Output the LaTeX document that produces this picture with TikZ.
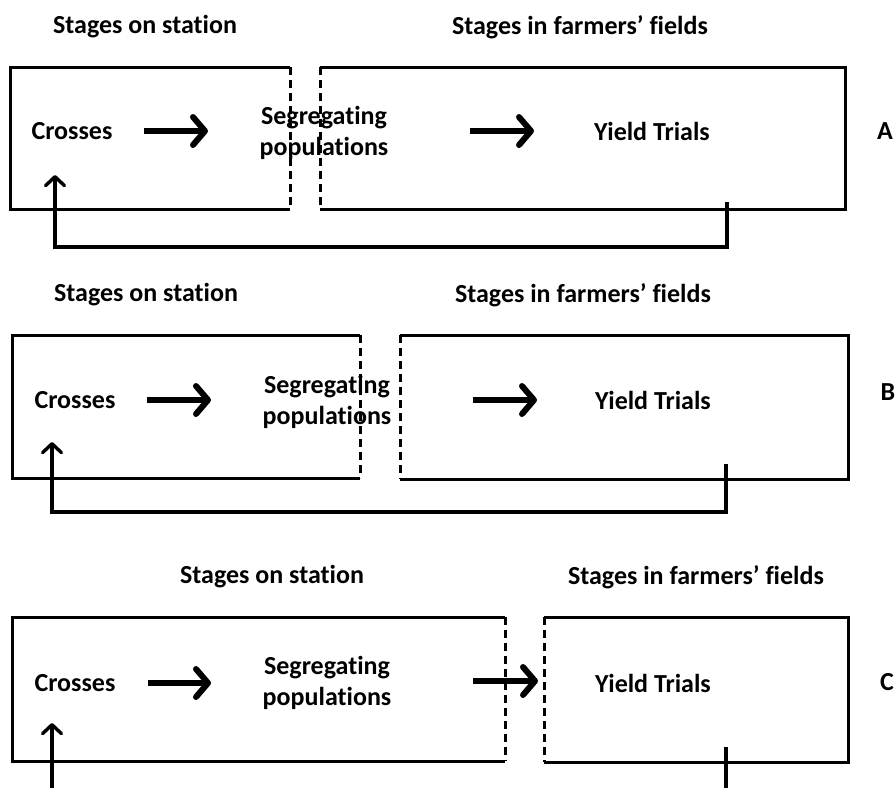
\documentclass[tikz,border=0pt]{standalone}
\usepackage{fontspec}
\setmainfont[Ligatures={NoCommon}]{Carlito}
\usetikzlibrary{arrows.meta}
\begin{document}
\begin{tikzpicture}[x=1pt,y=-1pt,
  txt/.style={font=\fontsize{26}{31}\selectfont\bfseries, inner sep=0pt, align=center},
  boxline/.style={line width=3pt},
  dashline/.style={line width=3pt, dash pattern=on 8pt off 5pt},
  flowarrow/.style={line width=6pt, -{Straight Barb[length=12pt,width=28pt,round]}},
  backarrow/.style={line width=3.4pt, -{Straight Barb[length=9pt,width=19pt,round]}},
  feedline/.style={line width=3.4pt}
]
\useasboundingbox (0,0) rectangle (896,788);

% ---------------- Panel A ----------------
\node[txt] (tA1) at (145,27) {Stages on station};
\node[txt] (tA2) at (580,27) {Stages in farmers’ fields};
\draw[boxline] (290,67) -- (10,67) -- (10,209) -- (290,209);
\draw[dashline] (290,67) -- (290,209);
\draw[boxline] (320,67) -- (845,67) -- (845,209) -- (320,209);
\draw[dashline] (320,67) -- (320,209);
\node[txt] (cA) at (72,131) {Crosses};
\node[txt] (sA) at (324,133) {Segregating\\populations};
\node[txt] (yA) at (652,131) {Yield Trials};
\node[txt] (lA) at (885,131) {A};
\coordinate (a1s) at (144,131); \coordinate (a1e) at (208,131);
\coordinate (a2s) at (470,131); \coordinate (a2e) at (534,131);
\draw[flowarrow] (a1s) -- (a1e);
\draw[flowarrow] (a2s) -- (a2e);
\coordinate (fA1) at (727,202); \coordinate (fA2) at (55,175);
\draw[backarrow] (fA1) -- (727,247) -- (55,247) -- (fA2);

% ---------------- Panel B ----------------
\node[txt] (tB1) at (146,295) {Stages on station};
\node[txt] (tB2) at (583,295) {Stages in farmers’ fields};
\draw[boxline] (360,335) -- (12,335) -- (12,478) -- (360,478);
\draw[dashline] (360,335) -- (360,478);
\draw[boxline] (400,335) -- (848,335) -- (848,479) -- (400,479);
\draw[dashline] (400,335) -- (400,479);
\node[txt] (cB) at (75,400) {Crosses};
\node[txt] (sB) at (327,402) {Segregating\\populations};
\node[txt] (yB) at (653,400) {Yield Trials};
\node[txt] (lB) at (888,392) {B};
\coordinate (b1s) at (147,400); \coordinate (b1e) at (211,400);
\coordinate (b2s) at (473,400); \coordinate (b2e) at (537,400);
\draw[flowarrow] (b1s) -- (b1e);
\draw[flowarrow] (b2s) -- (b2e);
\coordinate (fB1) at (726,464); \coordinate (fB2) at (52,442);
\draw[backarrow] (fB1) -- (726,512) -- (52,512) -- (fB2);

% ---------------- Panel C ----------------
\node[txt] (tC1) at (272,577) {Stages on station};
\node[txt] (tC2) at (696,577) {Stages in farmers’ fields};
\draw[boxline] (505,617) -- (12,617) -- (12,761) -- (505,761);
\draw[dashline] (505,617) -- (505,761);
\draw[boxline] (544,617) -- (848,617) -- (848,762) -- (544,762);
\draw[dashline] (544,617) -- (544,762);
\node[txt] (cC) at (75,683) {Crosses};
\node[txt] (sC) at (327,683) {Segregating\\populations};
\node[txt] (yC) at (653,683) {Yield Trials};
\node[txt] (lC) at (887,682) {C};
\coordinate (c1s) at (148,683); \coordinate (c1e) at (211,683);
\coordinate (c2s) at (473,681); \coordinate (c2e) at (538,681);
\draw[flowarrow] (c1s) -- (c1e);
\draw[flowarrow] (c2s) -- (c2e);
\coordinate (fC0) at (52,788); \coordinate (fC2) at (52,723);
\draw[backarrow] (fC0) -- (fC2);
\coordinate (fC1) at (726,747); \coordinate (fC3) at (726,788);
\draw[feedline] (fC1) -- (fC3);
\end{tikzpicture}
\end{document}
